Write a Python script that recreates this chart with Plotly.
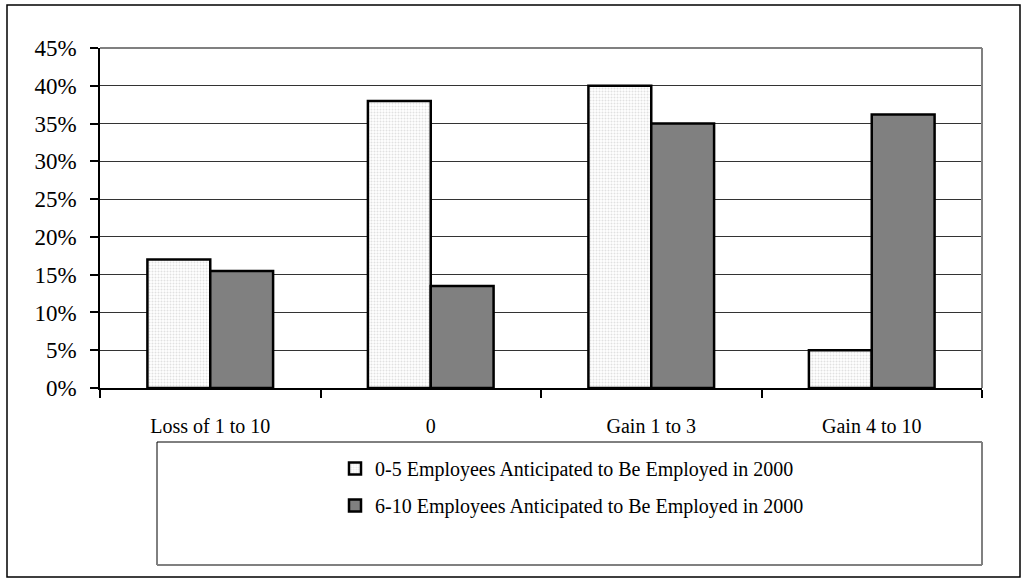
import plotly.graph_objects as go

# Change in employment by firm size group
categories = ["Loss of 1 to 10", "0", "Gain 1 to 3", "Gain 4 to 10"]
series_names = [
    "0-5 Employees Anticipated to Be Employed in 2000",
    "6-10 Employees Anticipated to Be Employed in 2000",
]
small_firms = [0.17, 0.38, 0.40, 0.05]
larger_firms = [0.155, 0.135, 0.35, 0.362]

W, H = 1029, 580
PL, PR, PT, PB = 100, 982, 48, 388  # plot area in pixels
FONT = "Liberation Serif"


def px_x(x):
    return (x - PL) / (PR - PL)


def px_y(y):
    return (PB - y) / (PB - PT)


fig = go.Figure()
fig.add_trace(go.Bar(
    x=categories, y=small_firms, name=series_names[0], legendgroup="a",
    marker=dict(
        color="white",
        line=dict(color="black", width=2.5),
        pattern=dict(shape=".", fgcolor="#c4c4c4", bgcolor="white", size=3, solidity=0.35),
    ),
))
fig.add_trace(go.Bar(
    x=categories, y=larger_firms, name=series_names[1], legendgroup="b",
    marker=dict(color="#808080", line=dict(color="black", width=2.5)),
))

shapes = [
    # plot frame (top / right in grey)
    dict(type="line", xref="paper", yref="paper", x0=0, x1=1, y0=1, y1=1,
         line=dict(color="#808080", width=2)),
    dict(type="line", xref="paper", yref="paper", x0=1, x1=1, y0=0, y1=1,
         line=dict(color="#808080", width=2)),
    # legend box
    dict(type="line", xref="paper", yref="paper", x0=px_x(157), x1=px_x(982),
         y0=px_y(442), y1=px_y(442), line=dict(color="black", width=1)),
    dict(type="line", xref="paper", yref="paper", x0=px_x(157), x1=px_x(157),
         y0=px_y(442), y1=px_y(565), line=dict(color="black", width=1)),
    dict(type="line", xref="paper", yref="paper", x0=px_x(157), x1=px_x(982),
         y0=px_y(565), y1=px_y(565), line=dict(color="#808080", width=2)),
    dict(type="line", xref="paper", yref="paper", x0=px_x(982), x1=px_x(982),
         y0=px_y(442), y1=px_y(565), line=dict(color="#808080", width=2)),
    # outer chart border
    dict(type="rect", xref="paper", yref="paper", x0=px_x(7), x1=px_x(1020),
         y0=px_y(5), y1=px_y(577), line=dict(color="black", width=1.5)),
]

fig.update_layout(
    width=W, height=H,
    margin=dict(l=PL, r=W - PR, t=PT, b=H - PB, pad=0),
    paper_bgcolor="white", plot_bgcolor="white",
    barmode="group", bargap=0.43, bargroupgap=0,
    font=dict(family=FONT, size=20, color="black"),
    showlegend=True,
    legend=dict(
        x=px_x(572), y=px_y(449), xanchor="center", yanchor="top",
        traceorder="grouped", tracegroupgap=8,
        bgcolor="rgba(0,0,0,0)", borderwidth=0,
        font=dict(family=FONT, size=20, color="black"),
    ),
    xaxis=dict(
        showgrid=False, showline=True, linecolor="black", linewidth=1.5,
        ticks="outside", tickson="boundaries", ticklen=8, tickcolor="black",
        tickwidth=1.5, tickfont=dict(family=FONT, size=20), ticklabelstandoff=19,
        fixedrange=True,
    ),
    yaxis=dict(
        range=[0, 0.45], dtick=0.05, tickformat=".0%",
        showgrid=True, gridcolor="#333333", gridwidth=1,
        showline=True, linecolor="black", linewidth=1.5,
        ticks="outside", ticklen=8, tickcolor="black", tickwidth=1.5,
        tickfont=dict(family=FONT, size=23), ticklabelstandoff=9,
        zeroline=False, fixedrange=True,
    ),
    shapes=shapes,
)

fig.write_html("out.html")
